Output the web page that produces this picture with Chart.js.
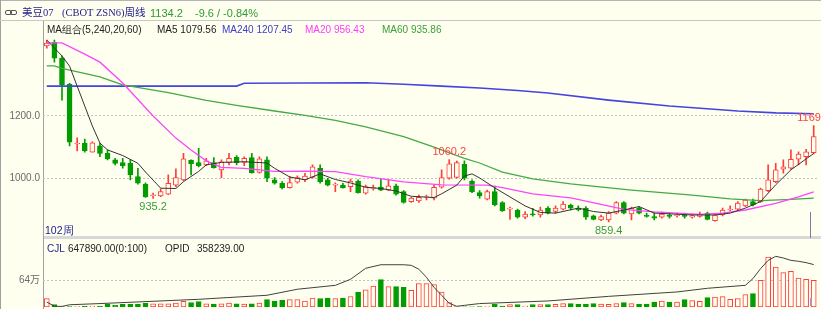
<!DOCTYPE html>
<html>
<head>
<meta charset="utf-8">
<script src="https://cdn.jsdelivr.net/npm/chart.js@4.4.1/dist/chart.umd.min.js"></script>
<style>
  body { margin: 0; background: #fffff0; }
  #wrap { position: relative; width: 821px; height: 309px; overflow: hidden; background: #fffff0;
          font-family: 'Liberation Sans', Arial, sans-serif; font-size: 10px; }
  .t { position: absolute; white-space: nowrap; line-height: 12px; }
  .cjk { font-family: 'Liberation Serif', 'Noto Sans CJK SC', serif; }
  .line { position: absolute; }
  canvas { position: absolute; left: 0; }
  .lk { position: absolute; width: 5px; height: 3px; border: 1px solid #555; border-radius: 2px; }
</style>
</head>
<body>
<div id="wrap">
  <div class="line" style="left:0;top:0;width:821px;height:1px;background:#b4b4b4"></div>
  <div class="line" style="left:0;top:0;width:1px;height:309px;background:#a0a0a0"></div>
  <div class="line" style="left:0;top:20px;width:821px;height:1px;background:#c8c8c8"></div>
  <div class="line" style="left:43px;top:21px;width:1px;height:288px;background:#a0a0a0"></div>
  <div class="line" style="left:44px;top:236px;width:777px;height:3px;background:#d8d8d8"></div>

  <canvas id="price" width="821" height="240" style="top:0"></canvas>
  <canvas id="vol" width="821" height="71" style="top:238px"></canvas>

  <div class="lk" style="left:5px;top:10px"></div>
  <div class="lk" style="left:10px;top:10px"></div>
  <div class="t cjk" style="left:22px;top:7px;color:#1c1c8c;font-size:10.5px">美豆07</div>
  <div class="t cjk" style="left:62px;top:7px;color:#1c1c8c;font-size:10.5px">(CBOT ZSN6)周线</div>
  <div class="t" id="last" style="left:150px;top:7px;color:#2f9a2f;font-size:11px"></div>
  <div class="t" id="chg" style="left:195px;top:7px;color:#2f9a2f;font-size:11px"></div>

  <div class="t" style="left:47px;top:24px;color:#222">MA组合(5,240,20,60)</div>
  <div class="t" id="lg5" style="left:157px;top:24px;color:#222"></div>
  <div class="t" id="lg240" style="left:222px;top:24px;color:#3c3cd0"></div>
  <div class="t" id="lg20" style="left:305px;top:24px;color:#ff3cff"></div>
  <div class="t" id="lg60" style="left:382px;top:24px;color:#3aa03a"></div>

  <div class="t" style="left:45px;top:224px;color:#1c1c8c;font-size:10.5px">102周</div>

  <div class="t" style="left:47px;top:243px;color:#1c1c8c">CJL</div>
  <div class="t" id="lgv" style="left:68px;top:243px;color:#222"></div>
  <div class="t" style="left:165px;top:243px;color:#222">OPID</div>
  <div class="t" id="lgoi" style="left:197px;top:243px;color:#222"></div>
</div>

<script>
// weekly candles
const opens  = [1425,1437,1386,1302,1110,1112,1084,1104,1080,1059,1050,1048,1005,981,944,943,949,978,995,1058,
                1050,1043,1050,1027,1050,1067,1051,1066,1019,1059,995,984,970,987,995,1003,1032,995,978,978,
                973,991,952,967,972,962,976,957,925,927,939,936,971,1000,1003,1045,991,954,933,957,
                922,901,898,875,886,882,904,893,901,914,904,904,879,866,866,888,922,885,904,882,
                877,875,882,880,882,875,877,888,864,882,898,901,911,925,925,960,989,1029,1032,1061,
                1069,1082];
const highs  = [1444,1444,1393,1305,1130,1126,1117,1112,1091,1064,1064,1059,1032,985,952,966,1011,1030,1080,1059,
                1096,1064,1066,1059,1080,1073,1069,1080,1069,1069,1002,989,1005,1008,1016,1043,1043,1000,985,984,
                997,995,978,978,997,995,981,960,939,946,946,978,1027,1060.2,1055,1056,995,960,962,975,
                925,907,901,893,903,907,909,911,925,917,911,909,882,882,893,925,925,907,909,888,
                888,891,888,888,888,885,891,891,885,904,911,925,933,933,968,1043,1048,1059,1091,1085,
                1093,1169.2];
const lows   = [1418,1373,1251,1104,1088,1084,1084,1069,1059,1043,1032,995,981,938,935.2,941,947,973,992,1011,
                1036,1040,1032,1002,1043,1043,1040,1016,1016,989,981,966,968,984,989,1000,984,975,957,968,
                957,952,949,962,960,960,946,920,922,922,930,930,968,997,1000,995,954,936,930,911,
                893,868,872,870,878,875,885,888,898,898,895,868,866,864,859.4,885,885,866,885,875,
                866,872,872,875,872,872,875,866,862,879,895,898,909,911,922,957,986,1016,1029,1043,
                1043,1078];
const closes = [1434,1386,1299,1116,1113,1088,1114,1080,1062,1048,1040,1011,984,940,947,957,984,1002,1062,1047,
                1040,1056,1034,1053,1064,1050,1064,1018,1062,1000,984,970,986,1002,1007,1037,989,978,981,970,
                991,954,973,970,962,976,949,922,936,939,941,971,1002,1046,1050,1000,957,943,957,914,
                895,904,875,885,882,898,888,904,917,904,898,875,868,877,888,922,888,904,888,877,
                872,885,877,882,877,880,885,868,882,898,901,920,930,914,965,995,1027,1037,1061,1078,
                1085,1134.2];
const volumes = [203000,57000,5000,10000,10000,15000,20000,20000,73000,40000,65000,65000,73000,90000,80000,80000,80000,97000,138000,110000,
                 130000,80000,73000,80000,97000,80000,73000,80000,97000,178000,146000,162000,178000,178000,146000,215000,207000,215000,207000,215000,
                 255000,365000,420000,511000,665000,495000,495000,480000,406000,568000,568000,543000,365000,105000,8000,5000,5000,8000,10000,65000,
                 20000,57000,57000,20000,57000,57000,57000,65000,81000,81000,65000,65000,81000,73000,65000,81000,105000,81000,65000,73000,
                 122000,146000,122000,122000,178000,154000,138000,227000,243000,251000,186000,203000,300000,324000,649000,1217000,973000,835000,868000,706000,
                 673000,647890];

// moving averages and open interest, [week index, value]
const ma5 = [[0,1444],[2,1393],[3,1360],[4,1296],[5,1232],[6,1168],[7,1113],[8,1091],[10,1073],[12,1048],[13,1020],[15,968],
             [17,967],[18,989],[20,1022],[21,1043],[23,1051],[26,1053],[29,1049],[30,1032],[32,1004],[34,995],[36,1014],[38,996],
             [40,985],[42,971],[44,967],[46,959],[48,942],[51,938],[52,950],[54,978],[55,1007],[56,1014],[57,1001],[59,969],
             [61,940],[63,911],[65,890],[67,888],[70,904],[72,893],[74,888],[76,898],[78,909],[80,888],[85,882],[88,882],
             [90,888],[92,904],[94,925],[96,979],[98,1027],[101,1079.56]];
const ma20 = [[0,1435],[2,1435],[5,1399],[7,1373],[10,1306],[14,1200],[17,1129],[19,1091],[21,1056],[23,1035],[26,1032],
              [30,1022],[34,1023],[38,1021],[42,1005],[47,988],[52,979],[58,978],[60,970],[64,950],[69,937],[73,916],
              [76,900],[80,892],[86,884],[89,888],[92,898],[96,919],[99,940],[101,956.43]];
const ma60 = [[0,1361],[1,1361],[2,1353],[7,1326],[10,1300],[16,1275],[21,1250],[25,1234],[30,1216],[34,1202],[38,1186],
              [42,1165],[47,1134],[51,1100],[55,1064],[57,1049],[60,1020],[64,998],[69,982],[77,962],[85,946],[90,934],
              [94,928],[98,932],[101,935.86]];
const ma240 = [[0,1296],[25,1296],[26,1305],[42,1307],[47,1302],[52,1296],[57,1290],[62,1282],[66,1274],[74,1251],
               [82,1232],[91,1216],[96,1210],[101,1207.45]];
const opid = [[0,42000],[1,6000],[2,5000],[3,19000],[7,29000],[20,65000],[29,99000],[33,150000],[38,183000],[40,234000],
              [42,327000],[44,357000],[47,357000],[48,352000],[49,319000],[50,251000],[51,166000],[52,99000],[53,31000],
              [54,6000],[55,14000],[57,29000],[66,51000],[74,90000],[83,127000],[87,158000],[92,183000],[93,240000],
              [94,324000],[95,394000],[96,428000],[97,414000],[98,394000],[99,386000],[100,375000],[101,358239]];

const priceTicks = [1000, 1200];
const volTicks = [640000];
const changeText = '-9.6 / -0.84%';
// labelled extremes: [week index, 'low' | 'high']
const marks = [[14,'low'],[53,'high'],[74,'low'],[101,'high']];

const RED = '#ff3c3c', GREEN = '#009c00', BG = '#fffff0';
const FONT = "'Liberation Sans', 'Noto Sans CJK SC', sans-serif";
const labels = closes.map((_, i) => String(i));
const up = closes.map((c, i) => c >= opens[i]);
const pts = arr => arr.map(([i, v]) => ({ x: String(i), y: v }));
const last = arr => arr[arr.length - 1][1];

document.getElementById('last').textContent = closes[closes.length - 1].toFixed(1);
document.getElementById('chg').textContent = changeText;
document.getElementById('lg5').textContent = 'MA5 ' + last(ma5).toFixed(2);
document.getElementById('lg240').textContent = 'MA240 ' + last(ma240).toFixed(2);
document.getElementById('lg20').textContent = 'MA20 ' + last(ma20).toFixed(2);
document.getElementById('lg60').textContent = 'MA60 ' + last(ma60).toFixed(2);
document.getElementById('lgv').textContent = volumes[volumes.length - 1].toFixed(2) + '(0:100)';
document.getElementById('lgoi').textContent = last(opid).toFixed(2);

function maLine(data, color, width) {
  return { type: 'line', data: pts(data), borderColor: color, borderWidth: width, pointRadius: 0, order: 0 };
}

const extremeLabels = {
  id: 'extremeLabels',
  afterDatasetsDraw(chart) {
    const { ctx, scales: { x, y } } = chart;
    ctx.save();
    ctx.font = '11px ' + FONT;
    ctx.textAlign = 'center';
    ctx.textBaseline = 'middle';
    marks.forEach(([i, kind]) => {
      const v = kind === 'low' ? lows[i] : highs[i];
      const px = x.getPixelForValue(i);
      const py = y.getPixelForValue(v) + (kind === 'low' ? 9 : -8);
      ctx.fillStyle = kind === 'low' ? '#3a9a3a' : '#ff4040';
      ctx.fillText(v.toFixed(1), px, py);
    });
    // cursor marker near the last week
    const cx = Math.round(x.getPixelForValue(labels.length - 1)) - 3.5;
    ctx.strokeStyle = '#7a7aa8';
    ctx.lineWidth = 1;
    ctx.beginPath();
    ctx.moveTo(cx, chart.chartArea.bottom - 26);
    ctx.lineTo(cx, chart.chartArea.bottom);
    ctx.stroke();
    ctx.restore();
  }
};

// fixed axis width, and no extra room reserved for the tick labels
const yFit = s => { s.width = 43; s.paddingTop = 0; s.paddingBottom = 0; };

new Chart(document.getElementById('price'), {
  type: 'bar',
  data: {
    labels,
    datasets: [
      maLine(ma5, '#333333', 1),
      maLine(ma20, '#ff44ff', 1.3),
      maLine(ma60, '#44aa44', 1.3),
      maLine(ma240, '#4444e0', 1.6),
      {
        data: opens.map((o, i) => [o, closes[i]]),
        backgroundColor: up.map(u => u ? BG : GREEN),
        borderColor: up.map(u => u ? RED : GREEN),
        borderWidth: 1, borderSkipped: false, barThickness: 5, grouped: false, order: 1
      },
      {
        data: lows.map((l, i) => [l, highs[i]]),
        backgroundColor: up.map(u => u ? RED : GREEN),
        barThickness: 1, grouped: false, order: 2
      }
    ]
  },
  options: {
    animation: false, responsive: false,
    layout: { padding: { left: 0, right: 3.5, top: 22, bottom: 2 } },
    plugins: { legend: { display: false }, tooltip: { enabled: false } },
    scales: {
      x: { display: false, offset: true },
      y: {
        min: 808, max: 1502,
        afterFit: yFit,
        afterBuildTicks: s => { s.ticks = priceTicks.map(v => ({ value: v })); },
        ticks: { callback: v => v.toFixed(1), color: '#6a6a6a', font: { size: 10, family: FONT }, padding: 3 },
        grid: { color: '#c4c4c4', drawTicks: false },
        border: { display: false, dash: [2, 2] }
      }
    }
  },
  plugins: [extremeLabels]
});

const volCursor = {
  id: 'volCursor',
  afterDatasetsDraw(chart) {
    const { ctx, scales: { x } } = chart;
    const cx = Math.round(x.getPixelForValue(labels.length - 1)) - 4;
    ctx.save();
    ctx.fillStyle = '#b890c0';
    ctx.fillRect(cx, chart.chartArea.bottom - 9, 2, 8);
    ctx.restore();
  }
};

new Chart(document.getElementById('vol'), {
  type: 'bar',
  data: {
    labels,
    datasets: [
      { type: 'line', data: pts(opid), yAxisID: 'yOI', borderColor: '#404040', borderWidth: 1, pointRadius: 0, order: 0 },
      {
        data: volumes,
        backgroundColor: up.map(u => u ? BG : GREEN),
        borderColor: up.map(u => u ? RED : GREEN),
        borderWidth: 1, borderSkipped: false, barThickness: 5, order: 1
      }
    ]
  },
  options: {
    animation: false, responsive: false,
    layout: { padding: { left: 0, right: 3.5, top: 2, bottom: 2 } },
    plugins: { legend: { display: false }, tooltip: { enabled: false } },
    scales: {
      x: { display: false, offset: true },
      y: {
        min: 0, max: 1630000,
        afterFit: yFit,
        afterBuildTicks: s => { s.ticks = volTicks.map(v => ({ value: v })); },
        ticks: { callback: v => (v / 10000) + '万', color: '#6a6a6a', font: { size: 10, family: FONT }, padding: 3 },
        grid: { color: '#c4c4c4', drawTicks: false },
        border: { display: false, dash: [2, 2] }
      },
      yOI: { display: false, min: 0, max: 566000 }
    }
  },
  plugins: [volCursor]
});
</script>
</body>
</html>
